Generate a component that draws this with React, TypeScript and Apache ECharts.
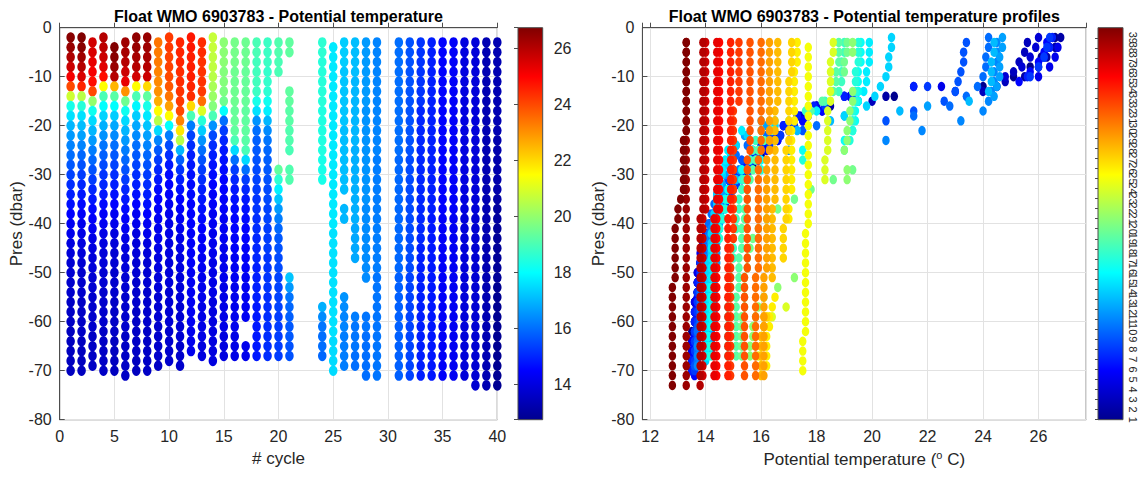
import { useEffect, useRef } from 'react';
import * as echarts from 'echarts';

// ---------------- DATA ----------------
const CYCLES = [1, 2, 3, 4, 5, 6, 7, 8, 9, 10, 11, 12, 13, 14, 15, 16, 17, 18, 19, 20, 21, 24, 25, 26, 27, 28, 29, 31, 32, 33, 34, 35, 36, 37, 38, 39, 40];

// sampled pressure levels (dbar): each profile uses one of these two sets
const LEVELS_EVEN = [2, 4, 6, 8, 10, 12, 14, 16, 18, 20, 22, 24, 26, 28, 30, 32, 34, 36, 38, 40, 42, 44, 46, 48, 50, 52, 54, 56, 58, 60, 62, 64, 66, 68, 70, 72];
const LEVELS_ODD = [3, 5, 7, 9, 11, 13, 15, 17, 19, 21, 23, 25, 27, 29, 31, 33, 35, 37, 39, 41, 43, 45, 47, 49, 51, 53, 55, 57, 59, 61, 63, 65, 67, 69, 71, 73];
const E = LEVELS_EVEN;
const O = LEVELS_ODD;
const PROFILE_LEVELS = [E, E, O, E, E, O, E, E, O, E, O, E, O, E, O, O, O, O, O, O, O, O, E, O, O, O, O, O, O, O, O, O, O, O, O, O, O];

// potential temperature (deg C) of each cycle at its pressure levels (null = no sample)
const C01 = [26.6, 26.4, 26.1, 25.7, 25.1, 24.0, 20.8, 18.3, 17.6, 17.0, 16.6, 16.3, 16.0, 15.7, 15.4, 15.1, 14.9, 14.7, 14.5, 14.3, 14.2, 14.0, 13.9, 13.8, 13.8, 13.7, 13.7, 13.6, 13.6, 13.6, 13.5, 13.5, 13.5, 13.5, 13.5];
const C02 = [26.8, 26.6, 26.3, 26.0, 25.5, 24.5, 20.5, 18.5, 17.6, 17.1, 16.7, 16.3, 15.9, 15.6, 15.3, 15.0, 14.8, 14.6, 14.4, 14.2, 14.1, 14.0, 13.9, 13.8, 13.7, 13.7, 13.7, 13.6, 13.6, 13.6, 13.6, 13.5, 13.5, 13.5, 13.5];
const C03 = [25.6, 25.5, 25.3, 25.1, 24.8, 24.0, 20.0, 18.2, 17.5, 17.0, 16.6, 16.2, 15.9, 15.6, 15.3, 15.0, 14.8, 14.6, 14.4, 14.3, 14.1, 14.0, 13.9, 13.9, 13.8, 13.8, 13.7, 13.7, 13.7, 13.7, 13.6, 13.6, 13.6, 13.6];
const C04 = [26.0, 25.9, 25.7, 25.4, 24.8, 21.5, 19.0, 18.0, 17.4, 16.9, 16.5, 16.1, 15.8, 15.5, 15.2, 15.0, 14.8, 14.6, 14.4, 14.3, 14.1, 14.0, 13.9, 13.9, 13.8, 13.8, 13.7, 13.7, 13.7, 13.7, 13.6, 13.6, 13.6, 13.6, 13.6];
const C05 = [null, 26.7, 26.6, 26.4, 26.0, 22.5, 19.2, 18.0, 17.3, 16.8, 16.4, 16.0, 15.7, 15.4, 15.1, 14.9, 14.7, 14.5, 14.3, 14.2, 14.0, 13.9, 13.8, 13.8, 13.7, 13.7, 13.7, 13.6, 13.6, 13.6, 13.6, 13.5, 13.5, 13.5, 13.5];
const C06 = [26.3, 26.2, 26.0, 25.7, 25.3, 23.0, 19.5, 18.2, 17.5, 17.0, 16.6, 16.2, 15.9, 15.6, 15.3, 15.0, 14.8, 14.6, 14.4, 14.3, 14.1, 14.0, 13.9, 13.9, 13.8, 13.8, 13.7, 13.7, 13.7, 13.7, 13.6, 13.6, 13.6, 13.6, 13.6];
const C07 = [26.5, 26.4, 26.2, 26.0, 25.6, 21.5, 19.0, 17.9, 17.3, 16.8, 16.4, 16.0, 15.7, 15.4, 15.1, 14.9, 14.7, 14.5, 14.3, 14.2, 14.0, 13.9, 13.9, 13.8, 13.8, 13.7, 13.7, 13.7, 13.6, 13.6, 13.6, 13.6, 13.6, 13.5, 13.5];
const C08 = [26.4, 26.3, 26.2, 26.0, 25.7, 22.0, 19.3, 18.3, 17.7, 17.2, 16.7, 16.3, 15.9, 15.6, 15.3, 15.1, 14.9, 14.7, 14.5, 14.3, 14.2, 14.0, 13.9, 13.8, 13.8, 13.8, 13.7, 13.7, 13.7, 13.7, 13.6, 13.6, 13.6, 13.6, 13.6];
const C09 = [23.4, 23.3, 23.3, 23.2, 23.1, 23.0, 22.6, 21.5, 20.5, 17.5, 16.3, 15.7, 15.3, 15.0, 14.8, 14.6, 14.5, 14.4, 14.3, 14.2, 14.2, 14.1, 14.0, 14.0, 13.9, 13.9, 13.8, 13.8, 13.8, 13.7, 13.7, 13.7, 13.7, 13.6];
const C10 = [24.2, 24.2, 24.1, 24.1, 24.0, 23.8, 23.4, 22.8, 21.5, 18.0, 16.2, 15.5, 15.1, 14.8, 14.6, 14.5, 14.4, 14.3, 14.2, 14.1, 14.1, 14.0, 14.0, 13.9, 13.9, 13.9, 13.8, 13.8, 13.8, 13.8, 13.7, 13.7, 13.7, 13.7];
const C11 = [24.5, 24.5, 24.5, 24.4, 24.4, 24.3, 24.2, 24.0, 23.2, 21.8, 20.5, 17.0, 15.8, 15.2, 14.9, 14.7, 14.5, 14.4, 14.3, 14.2, 14.1, 14.1, 14.0, 14.0, 13.9, 13.9, 13.9, 13.8, 13.8, 13.8, 13.8, 13.7, 13.7, 13.7];
const C12 = [24.7, 24.7, 24.6, 24.6, 24.6, 24.5, 24.4, 22.0, 19.0, 16.2, 15.4, 15.1, 14.9, 14.8, 14.7, 14.6, 14.6, 14.5, 14.5, 14.5, 14.4, 14.4, 14.4, 14.4, 14.3, 14.3, 14.3, 14.3, 14.3, 14.3, 14.2, 14.2, 14.2];
const C13 = [24.4, 24.4, 24.3, 24.3, 24.3, 24.2, 23.5, 21.0, 18.5, 17.3, 16.5, 16.0, 15.6, 15.3, 15.1, 14.9, 14.8, 14.7, 14.6, 14.5, 14.4, 14.4, 14.3, 14.3, 14.2, 14.2, 14.2, 14.1, 14.1, 14.1, 14.1, 14.0, 14.0];
const C14 = [20.7, 20.7, 20.6, 20.6, 20.5, 20.3, 20.1, 19.8, 19.0, 16.5, 15.5, 15.1, 14.9, 14.7, 14.6, 14.5, 14.4, 14.4, 14.3, 14.3, 14.2, 14.2, 14.2, 14.1, 14.1, 14.1, 14.1, 14.0, 14.0, 14.0, 14.0, 14.0, 14.0, 14.0];
const C15 = [19.9, 19.9, 19.9, 19.8, 19.8, 19.7, 19.5, 18.0, 16.0, 15.3, 15.0, 14.8, 14.7, 14.6, 14.5, 14.5, 14.4, 14.4, 14.3, 14.3, 14.3, 14.2, 14.2, 14.2, 14.2, 14.1, 14.1, 14.1, 14.1, 14.1, 14.0, 14.0, 14.0];
const C16 = [19.6, 19.6, 19.6, 19.5, 19.5, 19.5, 19.5, 19.4, 19.4, 19.3, 19.0, 17.5, 16.0, 15.3, 15.0, 14.8, 14.7, 14.6, 14.5, 14.5, 14.4, 14.4, 14.3, 14.3, 14.3, 14.2, 14.2, 14.2, 14.2, 14.2, 14.1, 14.1, 14.1];
const C17 = [19.5, 19.5, 19.5, 19.4, 19.4, 19.4, 19.4, 19.3, 19.3, 19.3, 19.2, 19.0, 17.5, 16.0, 15.3, 15.0, 14.8, 14.7, 14.6, 14.5, 14.5, 14.4, 14.4, 14.4, 14.3, 14.3, 14.3, 14.3, 14.3, null, null, 14.2, 14.2];
const C18 = [19.0, 19.0, 18.9, 18.9, 18.9, 18.8, 18.3, 17.6, 16.5, 16.0, 15.8, 15.7, 15.6, 15.5, 15.4, 15.3, 15.2, 15.2, 15.1, 15.1, 15.0, 15.0, 15.0, 14.9, 14.9, 14.9, 14.9, 14.8, 14.8, 14.8, 14.8, 14.8, 14.8];
const C19 = [18.8, 18.8, 18.8, 18.7, 18.7, 18.6, 18.2, 17.8, 17.0, 16.4, 16.1, 15.9, 15.8, 15.7, 15.6, 15.5, 15.5, 15.4, 15.4, 15.3, 15.3, 15.3, 15.2, 15.2, 15.2, 15.2, 15.1, 15.1, 15.1, 15.1, 15.1, 15.1, 15.1];
const C20 = [19.1, 19.1, 19.0, 19.0, null, null, null, null, null, null, null, null, null, 19.3, 18.6, 17.8, 17.2, 16.6, 16.2, 15.9, 15.7, 15.6, 15.5, 15.5, 15.4, 15.4, 15.4, 15.4, 15.3, 15.3, 15.3, 15.3, 15.3];
const C21 = [19.3, 19.3, null, null, null, 19.3, 19.3, 19.2, 19.2, 19.1, 19.1, 19.0, null, 19.1, 19.1, null, null, null, null, null, null, null, null, null, 17.2, 16.6, 16.1, 15.9, 15.8, 15.7, 15.7, 15.6, 15.6];
const C24 = [18.6, 18.6, 18.5, 18.5, 18.5, 18.5, 18.5, 18.4, 18.4, 18.4, 18.4, 18.4, 18.3, 18.3, 18.3, null, null, null, null, null, null, null, null, null, null, null, null, 16.9, 16.4, 16.1, 16.0, 16.0, 15.9];
const C25 = [null, 17.7, 17.7, 17.7, 17.7, 17.7, 17.7, 17.7, 17.7, 17.7, 17.7, 17.7, 17.7, 17.7, 17.7, 17.7, 17.7, 17.7, 17.7, 17.7, 17.6, 17.6, 17.6, 17.6, 17.6, 17.6, 17.6, 17.6, 17.6, 17.6, 17.6, 17.5, 17.5, 17.5, 17.5];
const C26 = [17.3, 17.3, 17.3, 17.2, 17.2, 17.2, 17.2, 17.2, 17.2, 17.1, 17.1, 17.1, 17.1, 17.1, 17.1, 17.1, null, 17.0, 17.0, null, null, null, null, null, null, null, 16.5, 16.4, 16.3, 16.3, 16.2, 16.2, 16.2, 16.2];
const C27 = [17.1, 17.1, 17.1, 17.1, 17.0, 17.0, 17.0, 17.0, 17.0, 17.0, 17.0, 16.9, 16.9, 16.9, 16.9, 16.9, 16.9, 16.9, 16.9, 16.8, 16.8, 16.8, 16.8, null, null, null, null, null, 16.2, 16.1, 16.1, 16.1, 16.0, 16.0];
const C28 = [16.6, 16.6, 16.6, 16.6, 16.6, 16.6, 16.6, 16.5, 16.5, 16.5, 16.5, 16.5, 16.5, 16.5, 16.5, 16.5, 16.5, 16.4, 16.4, 16.4, 16.4, 16.4, 16.4, 16.4, 16.4, null, null, null, 16.1, 16.1, 16.0, 16.0, 16.0, 16.0, 16.0];
const C29 = [16.3, 16.3, 16.3, 16.3, 16.3, 16.3, 16.3, 16.3, 16.3, 16.3, 16.3, 16.3, 16.2, 16.2, 16.2, 16.2, 16.2, 16.2, 16.2, 16.2, 16.2, 16.2, 16.2, 16.2, 16.1, 16.1, 16.1, 16.1, 16.1, 16.1, 16.1, 16.1, 16.1, 16.1, 16.1];
const C31 = [16.0, 16.0, 16.0, 16.0, 16.0, 16.0, 16.0, 16.0, 16.0, 16.0, 16.0, 16.0, 15.9, 15.9, 15.9, 15.9, 15.9, 15.9, 15.9, 15.9, 15.9, 15.9, 15.9, 15.9, 15.8, 15.8, 15.8, 15.8, 15.8, 15.8, 15.8, 15.8, 15.8, 15.8, 15.8];
const C32 = [15.6, 15.6, 15.6, 15.6, 15.6, 15.6, 15.6, 15.6, 15.6, 15.6, 15.6, 15.6, 15.5, 15.5, 15.5, 15.5, 15.5, 15.5, 15.5, 15.5, 15.5, 15.5, 15.5, 15.5, 15.4, 15.4, 15.4, 15.4, 15.4, 15.4, 15.4, 15.4, 15.4, 15.4, 15.4];
const C33 = [15.2, 15.2, 15.2, 15.2, 15.2, 15.2, 15.2, 15.0, 15.0, 15.0, 15.0, 15.0, 15.0, 15.0, 15.0, 15.0, 15.0, 15.0, 15.0, 15.0, 15.0, 14.9, 14.9, 14.9, 14.9, 14.9, 14.9, 14.9, 14.9, 14.9, 14.9, 14.9, 14.9, 14.9, 14.9];
const C34 = [14.9, 14.9, 14.9, 14.9, 14.9, 14.9, 14.9, 14.9, 14.9, 14.9, 14.9, 14.9, 14.9, 14.9, 14.9, 14.9, 14.9, 14.9, 14.8, 14.8, 14.8, 14.8, 14.8, 14.8, 14.8, 14.8, 14.8, 14.8, 14.8, 14.8, 14.8, 14.8, 14.8, 14.8, 14.8];
const C35 = [14.5, 14.5, 14.5, 14.5, 14.5, 14.5, 14.5, 14.5, 14.5, 14.5, 14.5, 14.5, 14.5, 14.5, 14.5, 14.5, 14.5, 14.5, 14.4, 14.4, 14.4, 14.4, 14.4, 14.4, 14.4, 14.4, 14.4, 14.4, 14.4, 14.4, 14.4, 14.4, 14.4, 14.4, 14.4];
const C36 = [14.4, 14.4, 14.4, 14.4, 14.4, 14.4, 14.4, 14.4, 14.4, 14.4, 14.4, 14.4, 14.4, 14.4, 14.4, 14.4, 14.4, 14.4, 14.3, 14.3, 14.3, 14.3, 14.3, 14.3, 14.3, 14.3, 14.3, 14.3, 14.3, 14.3, 14.3, 14.3, 14.3, 14.3, 14.3];
const C37 = [14.0, 14.0, 14.0, 14.0, 14.0, 14.0, 14.0, 14.0, 14.0, 14.0, 14.0, 14.0, 14.0, 14.0, 14.0, 14.0, 14.0, 14.0, 13.9, 13.9, 13.9, 13.9, 13.9, 13.9, 13.9, 13.9, 13.9, 13.9, 13.9, 13.9, 13.9, 13.9, 13.9, 13.9, 13.9];
const C38 = [13.9, 13.9, 13.9, 13.9, 13.9, 13.9, 13.9, 13.9, 13.9, 13.9, 13.9, 13.9, 13.9, 13.9, 13.9, 13.9, 13.9, 13.9, 13.8, 13.8, 13.8, 13.8, 13.8, 13.8, 13.8, 13.8, 13.8, 13.8, 13.8, 13.8, 13.8, 13.8, 13.8, 13.8, 13.8, 13.8];
const C39 = [13.3, 13.3, 13.3, 13.3, 13.3, 13.3, 13.3, 13.3, 13.3, 13.3, 13.3, 13.3, 13.3, 13.3, 13.3, 13.3, 13.3, 13.3, 13.3, 13.3, 13.3, 13.3, 13.3, 13.3, 13.3, 13.3, 13.3, 13.3, 13.3, 13.3, 13.3, 13.3, 13.3, 13.3, 13.3, 13.3];
const C40 = [13.3, 13.3, 13.3, 13.3, 13.3, 13.3, 13.3, 13.3, 13.3, 13.3, 13.2, 13.2, 13.2, 13.2, 13.2, 13.2, 13.1, 13.0, 13.0, 12.9, 12.9, 12.9, 12.9, 12.9, 12.9, 12.8, 12.8, 12.8, 12.8, 12.8, 12.8, 12.8, 12.8, 12.8, 12.8, 12.8];

const TEMP_PROFILES: (number | null)[][] = [C01, C02, C03, C04, C05, C06, C07, C08, C09, C10, C11, C12, C13, C14, C15, C16, C17, C18, C19, C20, C21, C24, C25, C26, C27, C28, C29, C31, C32, C33, C34, C35, C36, C37, C38, C39, C40];

const TEMP_COLOR_RANGE = [12.75, 26.73];
const CYCLE_COLOR_RANGE = [1, 40];
const CYCLE_AXIS = [0, 40];
const PRES_AXIS = [-80, 0];
const TEMP_AXIS = [11.72, 27.72];

// ---------------- STYLE ----------------
const FONT = "'Liberation Sans', Arial, Helvetica, sans-serif";
const JET = ['#00008f', '#0000ff', '#0080ff', '#00ffff', '#80ff80', '#ffff00', '#ff8000', '#ff0000', '#800000'];
const AXIS_COLOR = '#4d4d4d';
const LABEL_COLOR = '#262626';
const GRID_COLOR = '#e2e2e2';

const G_TOP = 27.7;
const G_H = 392;
const LEFT_G = { left: 59.7, width: 437.6 };
const RIGHT_G = { left: 642.4, width: 443.8 };
const LCB = { left: 518, width: 24.7 };
const RCB = { left: 1098, width: 25 };

export default function App() {
  const ref = useRef<HTMLDivElement>(null);

  useEffect(() => {
    if (!ref.current) return;
    const chart = echarts.init(ref.current, undefined, { renderer: 'svg' });

    const leftData: number[][] = [];
    const rightData: number[][] = [];
    CYCLES.forEach((cyc, k) => {
      const levels = PROFILE_LEVELS[k];
      TEMP_PROFILES[k].forEach((t, i) => {
        if (t === null || t === undefined) return;
        const p = -levels[i];
        leftData.push([cyc, p, t]);
        rightData.push([t, p, cyc]);
      });
    });

    const axisLine = { show: true, lineStyle: { color: AXIS_COLOR, width: 1 } };
    const axisTick = { show: true, inside: true, length: 5, lineStyle: { color: AXIS_COLOR } };
    const splitLine = { show: true, lineStyle: { color: GRID_COLOR, width: 1 } };
    const label = { color: LABEL_COLOR, fontSize: 16, fontFamily: FONT };
    const nameStyle = { color: LABEL_COLOR, fontSize: 17, fontFamily: FONT };

    const jetStops = JET.map((c, i) => ({ offset: i / (JET.length - 1), color: c }));

    const option: any = {
      animation: false,
      textStyle: { fontFamily: FONT },
      grid: [
        { left: LEFT_G.left, top: G_TOP, width: LEFT_G.width, height: G_H, show: true, borderColor: AXIS_COLOR, borderWidth: 1, backgroundColor: 'transparent' },
        { left: RIGHT_G.left, top: G_TOP, width: RIGHT_G.width, height: G_H, show: true, borderColor: AXIS_COLOR, borderWidth: 1, backgroundColor: 'transparent' },
        { left: LCB.left, top: G_TOP, width: LCB.width, height: G_H },
        { left: RCB.left, top: G_TOP, width: RCB.width, height: G_H },
      ],
      xAxis: [
        {
          type: 'value', gridIndex: 0, min: CYCLE_AXIS[0], max: CYCLE_AXIS[1], interval: 5,
          axisLine, axisTick, splitLine,
          axisLabel: { ...label, margin: 9 },
          name: '# cycle', nameLocation: 'middle', nameGap: 29, nameTextStyle: nameStyle,
        },
        {
          type: 'value', gridIndex: 1, min: TEMP_AXIS[0], max: TEMP_AXIS[1], splitNumber: 8,
          axisLine, axisTick, splitLine,
          axisLabel: {
            ...label, margin: 9,
            formatter: (v: number) => (Math.abs(v - Math.round(v)) < 1e-6 && Math.round(v) % 2 === 0 ? String(Math.round(v)) : ''),
          },
          name: '{t|Potential temperature (}{s|o}{t| C)}', nameLocation: 'middle', nameGap: 29,
          nameTextStyle: {
            ...nameStyle,
            rich: {
              t: { fontSize: 17, fontFamily: FONT, color: LABEL_COLOR, lineHeight: 19 },
              s: { fontSize: 11, fontFamily: FONT, color: LABEL_COLOR, lineHeight: 19, padding: [0, 0, 9, 0] },
            },
          },
        },
        { type: 'value', gridIndex: 2, show: false, min: 0, max: 1 },
        { type: 'value', gridIndex: 3, show: false, min: 0, max: 1 },
      ],
      yAxis: [
        {
          type: 'value', gridIndex: 0, min: PRES_AXIS[0], max: PRES_AXIS[1], interval: 10,
          axisLine, axisTick, splitLine,
          axisLabel: { ...label, margin: 8 },
          name: 'Pres (dbar)', nameLocation: 'middle', nameGap: 35, nameTextStyle: nameStyle,
        },
        {
          type: 'value', gridIndex: 1, min: PRES_AXIS[0], max: PRES_AXIS[1], interval: 10,
          axisLine, axisTick, splitLine,
          axisLabel: { ...label, margin: 8 },
          name: 'Pres (dbar)', nameLocation: 'middle', nameGap: 35, nameTextStyle: nameStyle,
        },
        {
          type: 'value', gridIndex: 2, position: 'right', min: TEMP_COLOR_RANGE[0], max: TEMP_COLOR_RANGE[1], splitNumber: 7,
          z: 5,
          axisLine: { show: false },
          axisTick: { show: true, inside: true, length: 4, lineStyle: { color: AXIS_COLOR } },
          splitLine: { show: false },
          axisLabel: {
            ...label, margin: 11,
            formatter: (v: number) => (Math.abs(v - Math.round(v)) < 1e-6 ? String(Math.round(v)) : ''),
          },
        },
        {
          type: 'value', gridIndex: 3, position: 'right', min: CYCLE_COLOR_RANGE[0], max: CYCLE_COLOR_RANGE[1], interval: 1,
          z: 5,
          axisLine: { show: false },
          axisTick: { show: true, inside: true, length: 3, lineStyle: { color: AXIS_COLOR } },
          splitLine: { show: false },
          axisLabel: { color: LABEL_COLOR, fontSize: 11, fontFamily: FONT, rotate: -90, margin: 4 },
        },
      ],
      visualMap: [
        { type: 'continuous', show: false, seriesIndex: 0, dimension: 2, min: TEMP_COLOR_RANGE[0], max: TEMP_COLOR_RANGE[1], inRange: { color: JET } },
        { type: 'continuous', show: false, seriesIndex: 1, dimension: 2, min: CYCLE_COLOR_RANGE[0], max: CYCLE_COLOR_RANGE[1], inRange: { color: JET } },
      ],
      graphic: [
        {
          type: 'text', x: LEFT_G.left + LEFT_G.width / 2, y: 16,
          style: { text: 'Float WMO 6903783 - Potential temperature', font: `bold 16px ${FONT}`, fill: '#000', align: 'center', verticalAlign: 'middle' },
        },
        {
          type: 'text', x: RIGHT_G.left + RIGHT_G.width / 2, y: 16,
          style: { text: 'Float WMO 6903783 - Potential temperature profiles', font: `bold 16px ${FONT}`, fill: '#000', align: 'center', verticalAlign: 'middle' },
        },
        {
          type: 'rect', z: 1,
          shape: { x: LCB.left, y: G_TOP, width: LCB.width, height: G_H },
          style: { fill: new echarts.graphic.LinearGradient(0, 1, 0, 0, jetStops), stroke: AXIS_COLOR, lineWidth: 1 },
        },
        {
          type: 'rect', z: 1,
          shape: { x: RCB.left, y: G_TOP, width: RCB.width, height: G_H },
          style: { fill: new echarts.graphic.LinearGradient(0, 1, 0, 0, jetStops), stroke: AXIS_COLOR, lineWidth: 1 },
        },
      ],
      series: [
        { type: 'scatter', xAxisIndex: 0, yAxisIndex: 0, data: leftData, symbol: 'circle', symbolSize: [8.5, 10.5], itemStyle: { opacity: 1 } },
        { type: 'scatter', xAxisIndex: 1, yAxisIndex: 1, data: rightData, symbol: 'circle', symbolSize: [7.5, 9.5], itemStyle: { opacity: 1 } },
        { type: 'scatter', xAxisIndex: 2, yAxisIndex: 2, data: [] },
        { type: 'scatter', xAxisIndex: 3, yAxisIndex: 3, data: [] },
      ],
    };

    chart.setOption(option);
    return () => chart.dispose();
  }, []);

  return <div ref={ref} style={{ position: 'absolute', left: 0, top: 0, width: 1146, height: 477, background: '#fff' }} />;
}
